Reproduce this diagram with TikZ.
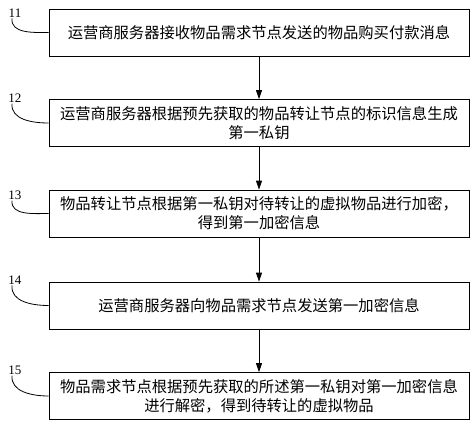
\documentclass[tikz,border=0pt]{standalone}
\usepackage{fontspec}
\setmainfont{Liberation Serif}
\newfontfamily\cjk{Noto Sans CJK SC}
\usepackage{tikz}
\usetikzlibrary{arrows.meta,positioning}
\tikzstyle{stepbox} = [draw, line width=0.8pt, minimum width=420pt, minimum height=47pt, align=center, font=\cjk\fontsize{15.3}{19}\selectfont]
\tikzstyle{stepno} = [inner sep=1pt, font=\fontsize{13}{13}\selectfont]
\tikzstyle{arrow} = [line width=0.8pt, -{Triangle[length=9pt,width=6pt]}]
\tikzstyle{lead} = [line width=0.8pt]

\begin{document}
\begin{tikzpicture}[x=1pt, y=-1pt]
\useasboundingbox (0,0) rectangle (474,426);
% Steps
\node[stepbox] (s11) at (259,32.5) {运营商服务器接收物品需求节点发送的物品购买付款消息};
\node[stepbox] (s12) at (259,123) {运营商服务器根据预先获取的物品转让节点的标识信息生成\\第一私钥};
\node[stepbox] (s13) at (259,213.5) {物品转让节点根据第一私钥对待转让的虚拟物品进行加密，\\得到第一加密信息};
\node[stepbox] (s14) at (259,305.5) {运营商服务器向物品需求节点发送第一加密信息};
\node[stepbox] (s15) at (259,396) {物品需求节点根据预先获取的所述第一私钥对第一加密信息\\进行解密，得到待转让的虚拟物品};

% Arrows
\draw[arrow] (s11) -- (s12);
\draw[arrow] (s12) -- (s13);
\draw[arrow] (s13) -- (s14);
\draw[arrow] (s14) -- (s15);

% Labels
\node[stepno] (n11) at (15,13) {11};
\node[stepno] (n12) at (15,98) {12};
\node[stepno] (n13) at (15,195) {13};
\node[stepno] (n14) at (15,280) {14};
\node[stepno] (n15) at (15,370) {15};
\foreach \i in {11,...,15}
  \draw[lead] ([xshift=-3pt]n\i.south) to[out=-95,in=180] (s\i.west);
\end{tikzpicture}
\end{document}
